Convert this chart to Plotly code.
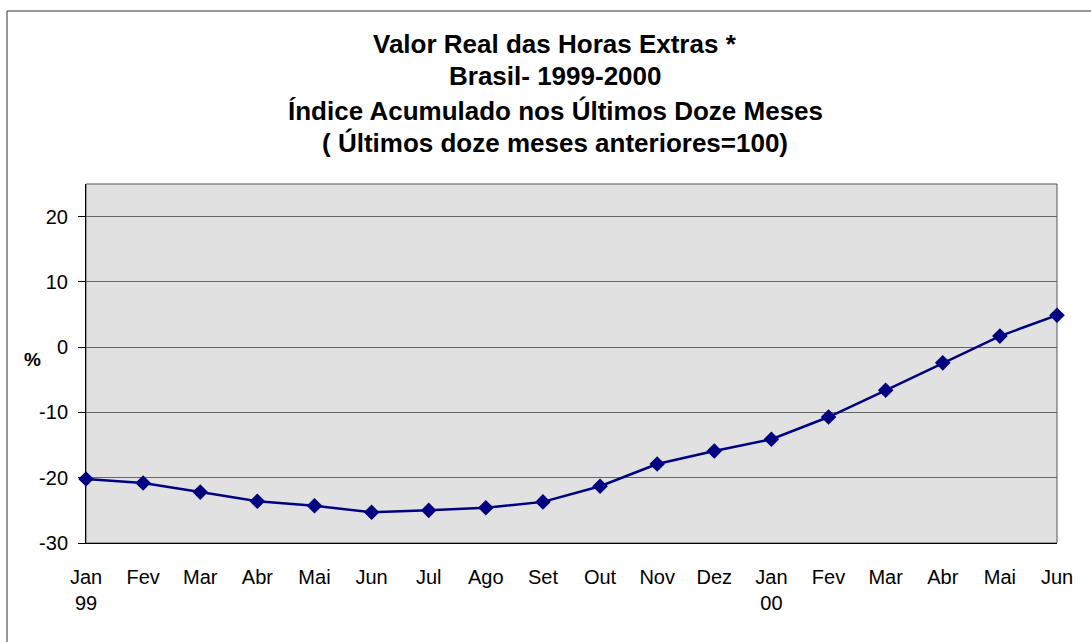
import plotly.graph_objects as go

months = ["Jan<br>99", "Fev", "Mar", "Abr", "Mai", "Jun", "Jul", "Ago", "Set", "Out",
          "Nov", "Dez", "Jan<br>00", "Fev", "Mar", "Abr", "Mai", "Jun"]
values = [-20.2, -20.8, -22.2, -23.6, -24.3, -25.3, -25.0, -24.6, -23.7, -21.3,
          -17.9, -15.9, -14.1, -10.7, -6.6, -2.4, 1.7, 4.9]
y_ticks = [-30, -20, -10, 0, 10, 20]
y_tick_labels = ["-30", "-20", "-10", "0", "10", "20"]
title_lines = ["Valor Real das Horas Extras *", "Brasil- 1999-2000",
               "Índice Acumulado nos Últimos Doze Meses",
               "( Últimos doze meses anteriores=100)"]

W, H = 1091, 642
L, R, T, B = 86, 1057, 184, 543
PW, PH = R - L, B - T

def px_x(p):
    return (p - L) / PW

def px_y(p):
    return (B - p) / PH

FONT = "Arial, Liberation Sans, sans-serif"

fig = go.Figure()
fig.add_trace(go.Scatter(
    x=list(range(len(values))), y=values, mode="lines+markers",
    line=dict(color="#000080", width=2.5),
    marker=dict(symbol="diamond", size=12, color="#000080"),
    cliponaxis=False, showlegend=False, hoverinfo="skip"))

annotations = []
title_centers = [44, 76, 111, 143]
for txt, yc in zip(title_lines, title_centers):
    annotations.append(dict(text="<b>%s</b>" % txt, xref="paper", yref="paper",
                            x=px_x(555), y=px_y(yc), xanchor="center", yanchor="middle",
                            showarrow=False, font=dict(family=FONT, size=26, color="black")))
annotations.append(dict(text="<b>%</b>", xref="paper", yref="paper",
                        x=px_x(32), y=px_y(359), xanchor="center", yanchor="middle",
                        showarrow=False, font=dict(family=FONT, size=19, color="black")))

shapes = [
    # outer chart border
    dict(type="rect", xref="paper", yref="paper",
         x0=px_x(7), x1=px_x(1120), y0=px_y(11), y1=px_y(680),
         line=dict(color="#333333", width=1), fillcolor="rgba(0,0,0,0)", layer="below"),
    # plot area border
    dict(type="rect", xref="paper", yref="paper", x0=0, x1=1, y0=0, y1=1,
         line=dict(color="#555555", width=1), fillcolor="rgba(0,0,0,0)", layer="below"),
]

fig.update_layout(
    width=W, height=H,
    margin=dict(l=L, r=W - R, t=T, b=H - B, pad=0),
    paper_bgcolor="white", plot_bgcolor="#e1e1e1",
    annotations=annotations, shapes=shapes,
    font=dict(family=FONT, size=20, color="black"),
    xaxis=dict(range=[0, len(values) - 1], tickmode="array",
               tickvals=list(range(len(values))), ticktext=months,
               showgrid=False, zeroline=False, showline=True, linecolor="black",
               linewidth=1, ticks="", ticklabelstandoff=16,
               tickfont=dict(family=FONT, size=20, color="black"), fixedrange=True),
    yaxis=dict(range=[-30, 25], tickmode="array", tickvals=y_ticks, ticktext=y_tick_labels,
               showgrid=True, gridcolor="#666666", gridwidth=1, zeroline=False,
               showline=True, linecolor="black", linewidth=1,
               ticks="outside", ticklen=7, tickcolor="black", tickwidth=1,
               ticklabelstandoff=6,
               tickfont=dict(family=FONT, size=20, color="black"), fixedrange=True),
)

fig.write_html("out.html", config={"displayModeBar": False},
               post_script="document.body.style.margin='0';document.body.style.padding='0';")
